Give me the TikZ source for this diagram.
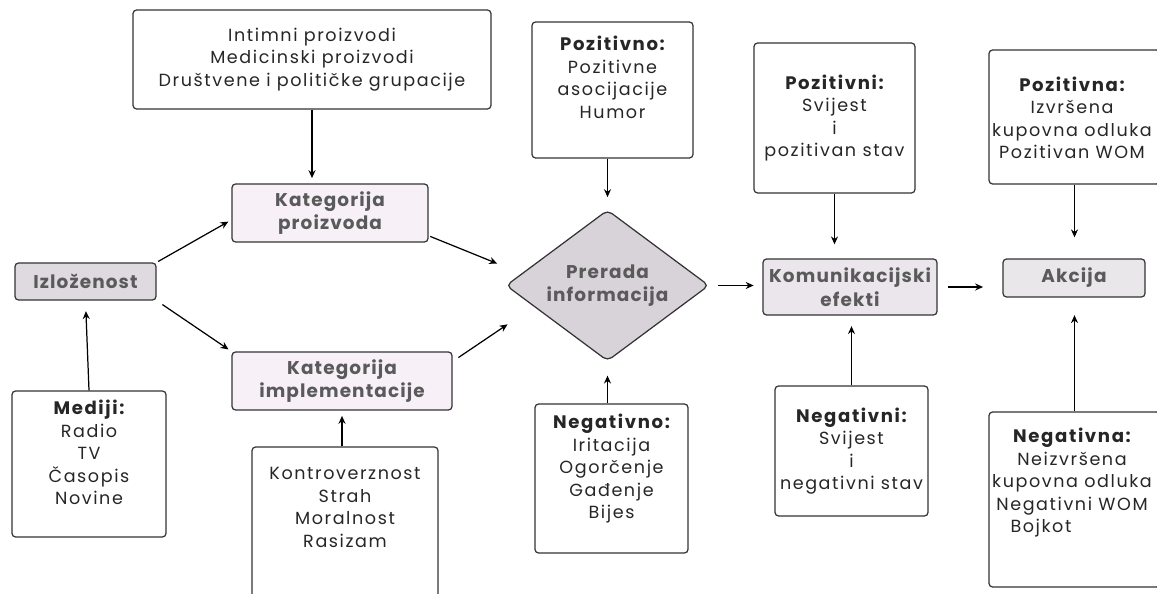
\documentclass[tikz,border=0pt]{standalone}
\usepackage{fontspec}
\setmainfont{Poppins}[LetterSpace=9]
\newfontfamily\flowfont{Poppins}[LetterSpace=6]
\usetikzlibrary{shapes.geometric,arrows.meta}

\definecolor{izlofill}{HTML}{DEDADF}
\definecolor{katfill}{HTML}{F7F1F7}
\definecolor{komfill}{HTML}{EBE5EC}
\definecolor{akcfill}{HTML}{E9E7EA}
\definecolor{diafill}{HTML}{D8D2D9}
\definecolor{labelgray}{HTML}{5A5A5A}

\newcommand\listhead[1]{{\bfseries\fontsize{10.3}{12.8}\selectfont #1}}

\begin{document}
\begin{tikzpicture}[x=0.02cm, y=-0.02cm]
    \tikzset{
        flow/.style={draw=black!80, line width=0.7pt, rounded corners=2pt, inner sep=0pt,
            align=center, text=labelgray, font=\flowfont\bfseries\fontsize{10.5}{13.5}\selectfont},
        listbox/.style={draw=black!80, line width=0.7pt, rounded corners=2pt, inner sep=0pt,
            align=center, text=black!85, font=\fontsize{10}{12.8}\selectfont},
        listtxt/.style={inner sep=0pt, align=center, text=black!85, font=\fontsize{10}{12.8}\selectfont},
        conn/.style={->, line width=0.7pt, >={Stealth[length=4.5pt,width=4pt]}}
    }
    \useasboundingbox (0,0) rectangle (1157,594);

    % main flow
    \node[flow, fill=izlofill, minimum width=2.82cm, minimum height=0.74cm] (izlo) at (85.5,281.5) {Izloženost};
    \node[flow, fill=katfill, minimum width=3.92cm, minimum height=1.16cm] (katprod) at (330,213) {Kategorija\\proizvoda};
    \node[flow, fill=katfill, minimum width=4.40cm, minimum height=1.16cm] (katimpl) at (342,381) {Kategorija\\implementacije};
    \node[flow, diamond, aspect=1.34, fill=diafill, rounded corners=3pt, minimum width=4.06cm, minimum height=3.02cm] (prerada) at (607.5,285.5) {Prerada\\informacija};
    \node[flow, fill=komfill, minimum width=3.48cm, minimum height=1.12cm] (komefekti) at (850,287) {Komunikacijski\\efekti};
    \node[flow, fill=akcfill, minimum width=2.84cm, minimum height=0.76cm] (akcija) at (1074,278) {Akcija};

    % boxes round it
    \node[listbox, minimum width=7.16cm, minimum height=1.98cm] (proizvodi) at (312,59.5)
        {Intimni proizvodi\\Medicinski proizvodi\\Društvene i političke grupacije};

    \node[listbox, minimum width=3.08cm, minimum height=2.92cm] (mediji) at (89,464) {};
    \node[listtxt, anchor=north] (mediji-t) at (89,400)
        {\listhead{Mediji:}\\Radio\\TV\\Časopis\\Novine};

    \node[listbox, minimum width=3.72cm, minimum height=3.06cm] (kontr) at (345,523.5) {};
    \node[listtxt, anchor=north] (kontr-t) at (345,467)
        {Kontroverznost\\Strah\\Moralnost\\Rasizam};

    \node[listbox, minimum width=3.22cm, minimum height=2.72cm] (pozitivno) at (612.5,90) {};
    \node[listtxt, anchor=north] (pozitivno-t) at (612.5,36)
        {\listhead{Pozitivno:}\\Pozitivne\\asocijacije\\Humor};

    \node[listbox, minimum width=3.06cm, minimum height=2.98cm] (negativno) at (611.5,478.5) {};
    \node[listtxt, anchor=north] (negativno-t) at (611.5,414)
        {\listhead{Negativno:}\\Iritacija\\Ogorčenje\\Gađenje\\Bijes};

    \node[listbox, minimum width=3.22cm, minimum height=3.00cm] (pozitivni) at (834.5,118)
        {\listhead{Pozitivni:}\\Svijest\\i\\pozitivan stav};
    \node[listbox, minimum width=3.06cm, minimum height=2.60cm] (negativni) at (851.5,451)
        {\listhead{Negativni:}\\Svijest\\i\\negativni stav};

    \node[listbox, minimum width=3.42cm, minimum height=2.68cm] (pozitivna) at (1074.5,117) {};
    \node[listtxt] (pozitivna-t) at (1072,118)
        {\listhead{Pozitivna:}\\Izvršena\\kupovna odluka\\Pozitivan WOM};

    \node[listbox, minimum width=3.42cm, minimum height=3.50cm] (negativna) at (1074.5,499.5) {};
    \node[listtxt, anchor=north] (negativna-t) at (1072,428)
        {\listhead{Negativna:}\\Neizvršena\\kupovna odluka\\Negativni WOM\\\makebox[70pt][l]{Bojkot}};

    % connectors
    \draw[conn, shorten >=3pt] (proizvodi.south) -- (proizvodi.south |- katprod.north);
    \draw[conn, shorten <=1pt, shorten >=2pt] (izlo.north east) -- (katprod.184);
    \draw[conn, shorten <=4pt, shorten >=2pt] (izlo.south east) -- (katimpl.north west);
    \draw[conn, shorten <=1pt, shorten >=15pt] (katprod.347) -- (prerada.172);
    \draw[conn, shorten <=4pt, shorten >=18pt] (katimpl.10) -- (prerada.196);
    \draw[conn, shorten >=7pt] (prerada.north |- pozitivno.south) -- (prerada.north);
    \draw[conn, shorten >=8pt] (negativno.north -| prerada.south) -- (prerada.south);
    \draw[conn, shorten <=5pt, shorten >=5pt] (prerada.east) -- (prerada.east -| komefekti.west);
    \draw[conn, shorten >=8pt] (pozitivni.south) -- (pozitivni.south |- komefekti.north);
    \draw[conn, shorten >=6pt] (negativni.north) -- (negativni.north |- komefekti.south);
    \draw[conn, shorten <=6pt, shorten >=11pt] (komefekti.east) -- (komefekti.east -| akcija.west);
    \draw[conn, shorten >=12pt] (pozitivna.south) -- (pozitivna.south |- akcija.north);
    \draw[conn, shorten >=10pt] (negativna.north) -- (negativna.north |- akcija.south);
    \draw[conn, shorten >=6pt] (mediji.north) -- (izlo.south);
    \draw[conn, shorten >=3pt] (kontr.north -| katimpl.south) -- (katimpl.south);
\end{tikzpicture}
\end{document}
